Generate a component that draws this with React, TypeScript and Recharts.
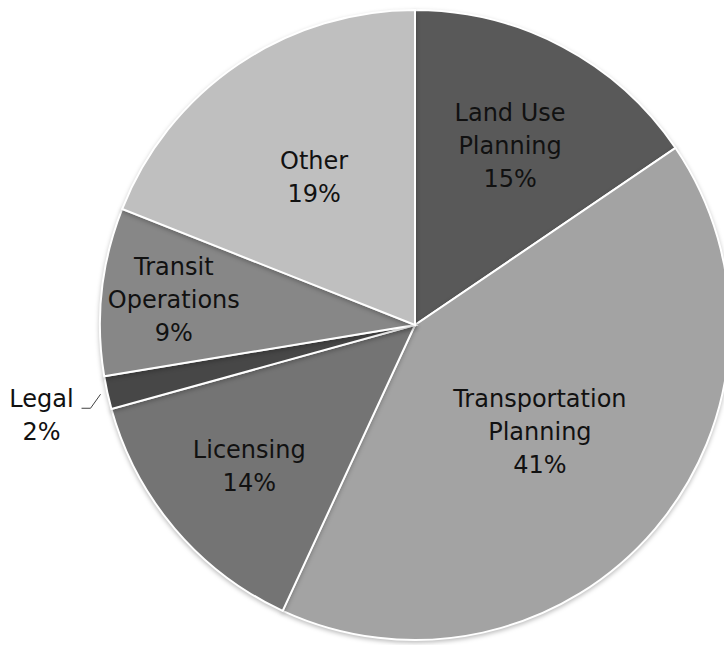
import React from 'react';
import { PieChart, Pie, Cell } from 'recharts';

const categories = [
  'Land Use Planning',
  'Transportation Planning',
  'Licensing',
  'Legal',
  'Transit Operations',
  'Other',
];
const shares = [15.5, 41.4, 13.8, 1.7, 8.6, 19.0];
const shareLabels = ['15%', '41%', '14%', '2%', '9%', '19%'];
const nameLines = [
  ['Land Use', 'Planning'],
  ['Transportation', 'Planning'],
  ['Licensing'],
  ['Legal'],
  ['Transit', 'Operations'],
  ['Other'],
];

const colors = ['#595959', '#a3a3a3', '#747474', '#474747', '#878787', '#bfbfbf'];
// where each label sits along its slice's middle, as a share of the radius
const labelDist = [0.645, 0.52, 0.69, 0, 0.77, 0.57];

const data = categories.map((name, i) => ({ name, value: shares[i], pct: shareLabels[i], lines: nameLines[i] }));

const RAD = Math.PI / 180;
const LINE_H = 33;
const FONT = 24;
const CAP = 8.7;

const renderLabel = (props: any) => {
  const { cx, cy, midAngle, outerRadius, index } = props;
  const d = data[index];
  const lines = [...d.lines, d.pct];
  const cos = Math.cos(-midAngle * RAD);
  const sin = Math.sin(-midAngle * RAD);

  if (d.value < 3) {
    // small slice: label outside with a leader line
    const ex = cx + (outerRadius + 7) * cos;
    const ey = cy + (outerRadius + 7) * sin;
    const tx = ex - 59;
    const ty = ey + 13;
    return (
      <g key={`lbl-${index}`}>
        <polyline
          points={`${ex},${ey} ${ex - 10},${ey + 14} ${ex - 19},${ey + 14}`}
          fill="none"
          stroke="#404040"
          strokeWidth={1}
        />
        <text x={tx} y={ty} textAnchor="middle" fontSize={FONT} fill="#111" fontFamily="'DejaVu Sans', sans-serif">
          {lines.map((t, j) => (
            <tspan key={j} x={tx} y={ty + j * LINE_H}>{t}</tspan>
          ))}
        </text>
      </g>
    );
  }

  const r = outerRadius * labelDist[index];
  const x = cx + r * cos;
  const y = cy + r * sin;
  const firstBase = y - ((lines.length - 1) * LINE_H) / 2 + CAP;
  return (
    <text key={`lbl-${index}`} x={x} y={firstBase} textAnchor="middle" fontSize={FONT} fill="#111" fontFamily="'DejaVu Sans', sans-serif">
      {lines.map((t, j) => (
        <tspan key={j} x={x} y={firstBase + j * LINE_H}>{t}</tspan>
      ))}
    </text>
  );
};

export default function App() {
  return (
    <div style={{ position: 'absolute', left: 0, top: 0, width: 724, height: 645, background: '#fff' }}>
      <style>{`.recharts-pie-sector path { filter: drop-shadow(0px 2px 2px rgba(0,0,0,0.25)); }`}</style>
      <PieChart width={724} height={645} margin={{ top: 0, right: 0, bottom: 0, left: 0 }}>
        <Pie
          data={data}
          dataKey="value"
          nameKey="name"
          cx={415}
          cy={325}
          outerRadius={315}
          startAngle={90}
          endAngle={-270}
          stroke="#ffffff"
          strokeWidth={2}
          label={renderLabel}
          labelLine={false}
          isAnimationActive={false}
        >
          {data.map((entry, i) => (
            <Cell key={`cell-${i}`} fill={colors[i]} />
          ))}
        </Pie>
      </PieChart>
    </div>
  );
}
